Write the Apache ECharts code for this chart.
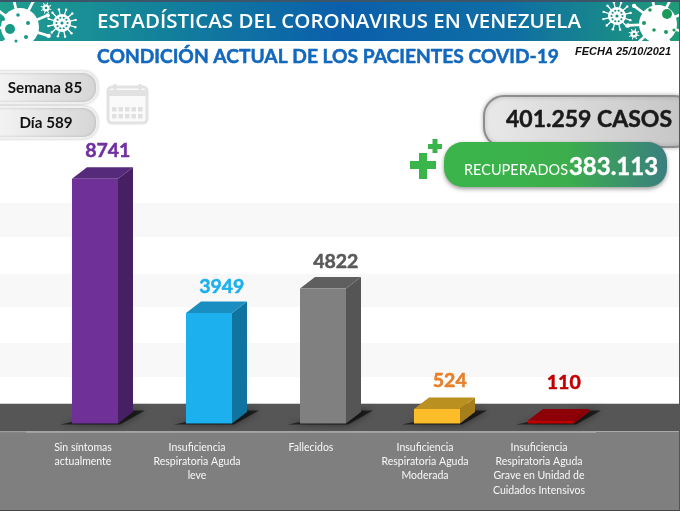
<!DOCTYPE html>
<html><head><meta charset="utf-8">
<style>html,body{margin:0;padding:0;background:#fff}#c{width:680px;height:511px}</style>
<script src="https://cdn.jsdelivr.net/npm/echarts@6/dist/echarts.min.js"></script>
</head><body><div id="c"></div>
<script>
const categories = ['Sin síntomas\nactualmente','Insuficiencia\nRespiratoria Aguda\nleve','Fallecidos','Insuficiencia\nRespiratoria Aguda\nModerada','Insuficiencia\nRespiratoria Aguda\nGrave en Unidad de\nCuidados Intensivos'];
const values = [8741,3949,4822,524,110];
const frontColors = ['#6f3198','#1cb0ee','#808080','#fdbd2a','#c00000'];
const topColors = ['#552a7a','#1a8ec0','#5f5f5f','#ba9020','#8e0008'];
const sideColors = ['#472063','#0f75a0','#555555','#a67f1c','#8e0008'];
const labelColors = ['#7030a0','#1cb0ee','#595959','#e6802a','#c00000'];
const labelLift = [28.5,26.5,26.5,28.5,37.5];
const headerTitle = 'ESTADÍSTICAS DEL CORONAVIRUS EN VENEZUELA';
const mainTitle = 'CONDICIÓN ACTUAL DE LOS PACIENTES COVID-19';
const dateText = 'FECHA 25/10/2021';
const weekText = 'Semana 85';
const dayText = 'Día 589';
const casesText = '401.259 CASOS';
const recoveredLabel = 'RECUPERADOS';
const recoveredValue = '383.113';

const LAT = 'Lato, Carlito, sans-serif';
const hg = (stops)=>({type:'linear',x:0,y:0,x2:1,y2:0,colorStops:stops.map(c=>({offset:c[0],color:c[1]}))});
const g = [];
const rect=(x,y,w,h,fill,z)=>g.push({type:'rect',shape:{x,y,width:w,height:h},style:{fill},z:z,silent:true});
const txt=(text,x,y,font,fill,align,z,sw)=>g.push({type:'text',x,y,z:z||20,silent:true,style:{text,font,fill,align:align||'center',verticalAlign:'middle',stroke:sw?fill:null,lineWidth:sw||0}});

// wall bands and floor
[[203,34],[274,33],[343,34]].forEach(b=>rect(0,b[0],680,b[1],'#f8f8f8',0));
rect(0,403.5,680,28,'#565656',0);
rect(0,403,680,1,'#cfcfcf',0);
rect(0,432,680,78,'#7f7f7f',0);
rect(26,431.5,570,1.5,'#a0a0a0',0);
rect(0,431.5,26,1,'#8c8c8c',0);
rect(0,510,680,1,'#444',30);
rect(679,0,1,511,'#555',30);

// header
rect(0,2,680,39,hg([[0,'#1f9f8e'],[0.25,'#127f9c'],[0.5,'#0b5fab'],[0.75,'#0f6ea4'],[1,'#1f9c78']]),1);
rect(0,0,680,2,'#3c5568',30);
function virus(cx,cy,r,n,spike,dot,spots){
  for(let i=0;i<n;i++){
    const a=i/n*Math.PI*2+0.3, x2=cx+Math.cos(a)*(r+spike), y2=cy+Math.sin(a)*(r+spike);
    g.push({type:'line',z:3,silent:true,shape:{x1:cx,y1:cy,x2,y2},style:{stroke:'#fff',lineWidth:Math.max(1,r/7)}});
    g.push({type:'circle',z:3,silent:true,shape:{cx:x2,cy:y2,r:dot},style:{fill:'#fff'}});
  }
  g.push({type:'circle',z:3,silent:true,shape:{cx,cy,r},style:{fill:'#fff'}});
  spots.forEach(s=>g.push({type:'circle',z:4,silent:true,shape:{cx:cx+s[0],cy:cy+s[1],r:s[2]},style:{fill:s[3]||'#169a86'}}));
}
virus(20,27,19,9,11,2.2,[[-10,2,5],[-17,-8,2],[-2,-12,1.8],[8,-4,2],[6,10,2],[-4,14,1.5]]);
const ring=[];for(let i=0;i<10;i++){const a=i/10*Math.PI*2;ring.push([Math.cos(a)*5.5,Math.sin(a)*5.5,1.1,'#1b8f94'])}ring.push([0,0,1.6,'#1b8f94']);
virus(62,23,9,12,5,1.2,ring);
virus(46,8,3.5,8,1.5,0.6,[[0,0,1.3,'#1b8f94']]);
virus(658,24,19,9,11,2.2,[[9,-10,5,'#1c9a5c'],[-8,-14,1.8,'#1c9a5c'],[-14,-1,2,'#1c9a5c'],[-4,6,1.8,'#1c9a5c'],[8,8,2,'#1c9a5c'],[16,6,1.6,'#1c9a5c']]);
virus(617,16,9,12,5,1.2,ring.map(s=>[s[0],s[1],s[2],'#1a8f80']));
virus(634,34,3.5,8,1.5,0.6,[[0,0,1.3,'#1a8f80']]);
txt(headerTitle,339,22,'600 20.5px "Open Sans"','#fff');
txt(mainTitle,328,57,'700 19.2px '+LAT,'#1268bd','center',20,0.5);
txt(dateText,623,52,'italic 700 11px "Liberation Sans"','#111');

// week/day pills
[[72,weekText],[107,dayText]].forEach((p,i)=>{
  g.push({type:'rect',z:5,silent:true,shape:{x:-14,y:p[0],width:111,height:31,r:14},style:{fill:hg([[0,'#f7f7f7'],[1,'#d5d5d5']]),stroke:'#f0f0f0',lineWidth:2,shadowBlur:3,shadowColor:'rgba(0,0,0,0.2)'}});
  txt(p[1],i?46:45,p[0]+16,'700 15.2px '+LAT,'#111');
});
// calendar icon
g.push({type:'rect',z:5,silent:true,shape:{x:108,y:87,width:39,height:36,r:4},style:{fill:'#fafafa',stroke:'#e2e2e2',lineWidth:3}});
rect(108,90,39,6,'#e2e2e2',5);
[115,140].forEach(x=>rect(x-1.5,84,3,8,'#e2e2e2',6));
for(let r=0;r<2;r++)for(let c=0;c<5;c++)rect(112+c*6.5,107+r*7,4.5,4.5,'#e0e0e0',6);

// totals
g.push({type:'rect',z:6,silent:true,shape:{x:484,y:96,width:210,height:51,r:20},style:{fill:hg([[0,'#e9e9e9'],[1,'#c4c4c4']]),stroke:'#8d8d8d',lineWidth:2,shadowBlur:4,shadowColor:'rgba(0,0,0,0.25)'}});
g.push({type:'rect',z:7,silent:true,shape:{x:444,y:142,width:223,height:45,r:19},style:{fill:hg([[0,'#3ab54a'],[0.55,'#3cae4c'],[1,'#3a7f80']]),shadowBlur:4,shadowOffsetY:2,shadowColor:'rgba(0,0,0,0.4)'}});
rect(410,161,26,8,'#3ab54a',7);rect(419,153,8,26,'#3ab54a',7);
rect(428,144,14,5,'#3ab54a',7);rect(432.5,139,5,14,'#3ab54a',7);
txt(casesText,589,120,'700 23px '+LAT,'#1a1a1a','center',20,0.5);
txt(recoveredLabel,464,170,'400 14.5px '+LAT,'#fff','left');
txt(recoveredValue,613.5,167,'700 24px '+LAT,'#fff','center',20,0.4);

const DX=15, DY=11.5, SHIFT=12;
function renderItem(params,api){
  const i=params.dataIndex, base=api.coord([i,0]), tip=api.coord([i,api.value(1)]);
  const w=api.size([1,0])[0]*0.4035;
  const x0=base[0]+SHIFT-w/2, x1=x0+w, yb=base[1], yt=tip[1];
  const poly=(pts,fill,extra)=>({type:'polygon',shape:{points:pts},style:Object.assign({fill},extra||{})});
  return {type:'group',children:[
    poly([[x0-12,yb+1],[x1+2,yb+1],[x1+27,yb-13],[x1+10,yb-13]],'rgba(0,0,0,0.6)',{shadowBlur:7,shadowColor:'rgba(0,0,0,0.8)'}),
    poly([[x1,yt],[x1+DX,yt-DY],[x1+DX,yb-DY],[x1,yb]],sideColors[i]),
    poly([[x0,yt],[x0+DX,yt-DY],[x1+DX,yt-DY],[x1,yt]],topColors[i]),
    {type:'rect',shape:{x:x0,y:yt,width:w,height:yb-yt},style:{fill:frontColors[i]}},
    {type:'text',x:x0+w/2+DX*0.85,y:yt-labelLift[i],style:{text:String(api.value(1)),font:'700 19.5px '+LAT,fill:labelColors[i],stroke:labelColors[i],lineWidth:0.5,align:'center',verticalAlign:'middle'}}
  ]};
}
const chart=echarts.init(document.getElementById('c'),null,{renderer:'canvas',width:680,height:511});
chart.setOption({
  animation:false,
  backgroundColor:'#fff',
  grid:{left:26,width:570,top:143.6,height:280},
  xAxis:{type:'category',data:categories,z:5,axisLine:{show:false},axisTick:{show:false},
    axisLabel:{interval:0,color:'#f8f8f8',fontFamily:'Lato',fontSize:10.5,lineHeight:14.2,margin:17,verticalAlign:'top'}},
  yAxis:{type:'value',min:0,max:10000,show:false,splitLine:{show:false}},
  series:[{type:'custom',renderItem,clip:false,z:8,data:values.map((v,i)=>[i,v]),encode:{x:0,y:1}}],
  graphic:{elements:g}
});
</script></body></html>
